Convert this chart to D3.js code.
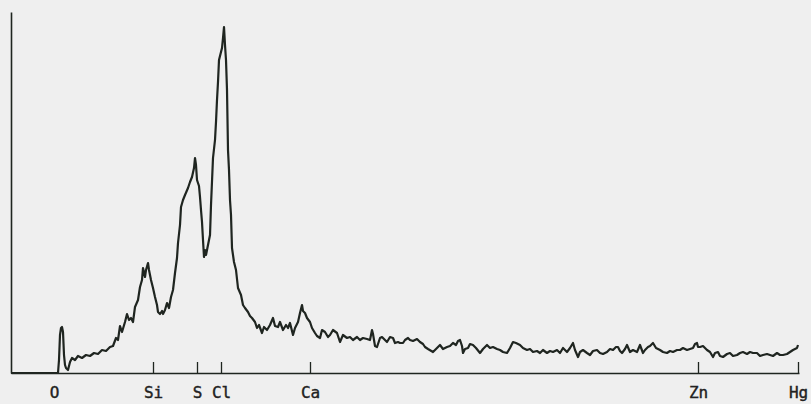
<!DOCTYPE html>
<html>
<head>
<meta charset="utf-8">
<script src="https://cdn.jsdelivr.net/npm/d3@7"></script>
<style>
  html, body { margin: 0; padding: 0; background: #efefef; }
  svg { display: block; }
</style>
</head>
<body>
<svg id="chart" width="811" height="404"></svg>
<script>
// Element markers (channel position on the energy axis)
const elements = ["O", "Si", "S", "Cl", "Ca", "Zn", "Hg"];
const elementChannel = [43, 142, 186, 210, 299, 687, 787];
const tickedElements = ["Si", "S", "Cl", "Ca", "Zn", "Hg"];

// Spectrum: [channel, counts]
const spectrum = [
  [0,0],[47,0],[48,13],[49,38],[50,45],[51,46],[52,41],[53,18],[54,8],[55,5],
  [57,3],[59,11],[61,15],[64,13],[67,17],[71,15],[75,18],[79,17],[83,20],[87,19],
  [91,23],[95,22],[99,26],[102,27],[105,35],[107,33],[109,47],[111,41],[114,51],[116,59],
  [118,53],[120,55],[122,51],[124,66],[127,73],[129,86],[131,93],[132,105],[134,96],[135,103],
  [137,110],[138,103],[140,93],[142,85],[144,76],[146,68],[147,61],[149,59],[151,62],[152,59],
  [154,63],[156,70],[158,65],[160,76],[162,83],[164,100],[166,115],[167,130],[169,148],[170,166],
  [172,173],[174,178],[177,185],[179,191],[181,196],[183,205],[184,215],[185,208],[186,193],[188,187],
  [189,176],[190,163],[191,151],[192,133],[193,116],[194,123],[195,118],[196,123],[198,133],[199,138],
  [200,168],[202,215],[204,233],[205,251],[206,273],[207,291],[208,313],[210,321],[211,325],[212,335],
  [213,346],[214,328],[215,313],[216,283],[217,223],[218,203],[219,173],[220,158],[221,125],[223,111],
  [225,103],[227,85],[230,78],[232,68],[234,65],[237,61],[239,57],[241,55],[244,51],[246,45],
  [248,48],[251,40],[253,46],[256,43],[259,48],[262,55],[264,47],[267,46],[269,51],[272,43],
  [275,48],[277,45],[279,50],[282,38],[284,45],[287,51],[289,60],[291,68],[292,62],[294,60],
  [296,55],[299,51],[301,45],[304,40],[306,37],[309,35],[311,43],[314,41],[317,36],[319,38],
  [322,43],[326,40],[329,31],[332,38],[336,35],[339,36],[342,33],[346,36],[349,33],[352,35],
  [356,34],[359,33],[361,43],[362,39],[364,27],[366,26],[369,35],[371,36],[374,33],[376,31],
  [379,36],[382,35],[384,30],[387,31],[389,30],[392,30],[394,33],[397,35],[399,33],[402,32],
  [406,34],[409,31],[412,29],[414,26],[417,24],[422,21],[426,25],[429,28],[432,24],[436,26],
  [439,27],[442,30],[445,28],[447,32],[449,33],[451,27],[452,20],[454,24],[457,25],[459,29],
  [462,28],[465,25],[469,20],[472,24],[476,28],[479,25],[482,26],[486,24],[489,23],[492,21],
  [496,20],[499,25],[502,31],[505,30],[509,28],[512,25],[516,23],[519,24],[522,21],[526,22],
  [529,20],[532,23],[536,20],[539,22],[542,21],[546,23],[549,20],[552,25],[556,21],[559,25],
  [562,30],[564,23],[567,16],[569,21],[572,23],[576,20],[579,18],[582,22],[586,23],[589,20],
  [592,19],[596,21],[599,24],[602,23],[605,26],[607,26],[609,22],[611,20],[614,24],[616,28],
  [619,21],[622,23],[626,21],[629,28],[632,20],[634,23],[637,26],[639,27],[642,30],[645,25],
  [649,23],[652,21],[656,20],[659,22],[662,21],[666,23],[669,23],[672,25],[676,23],[679,24],
  [682,25],[684,29],[686,30],[687,26],[689,26],[692,27],[696,23],[699,21],[702,16],[704,20],
  [707,21],[709,17],[712,16],[716,19],[719,20],[722,17],[726,18],[729,20],[732,21],[736,19],
  [739,21],[742,20],[746,20],[749,17],[752,18],[756,19],[759,18],[762,17],[766,20],[769,18],
  [772,18],[776,19],[779,21],[782,23],[784,24],[786,25],[787,28]
];

const svg = d3.select("#chart");
const ink = "#1f2520";

const x = d3.scaleLinear().domain([0, 788]).range([11, 799]);
const y = d3.scaleLinear().domain([0, 361]).range([373, 12]);

// Bottom axis with inward element ticks
const nameAt = new Map(elementChannel.map((c, i) => [c, elements[i]]));
const xAxis = d3.axisBottom(x)
  .tickValues(elementChannel)
  .tickFormat(c => nameAt.get(c))
  .tickSizeInner(-11)
  .tickSizeOuter(0)
  .tickPadding(14);

const gx = svg.append("g")
  .attr("transform", `translate(0,${y(0)})`)
  .call(xAxis);
gx.select(".domain").attr("stroke", ink).attr("stroke-width", 1.6);
gx.selectAll(".tick line")
  .attr("stroke", ink).attr("stroke-width", 1.3)
  .attr("display", c => tickedElements.includes(nameAt.get(c)) ? null : "none");
gx.selectAll(".tick text")
  .attr("fill", "#222")
  .attr("stroke", "#222")
  .attr("stroke-width", 0.4)
  .attr("font-family", "'DejaVu Sans Mono', 'Liberation Mono', monospace")
  .attr("font-size", 16);

// Left axis: plain line
const gy = svg.append("g")
  .attr("transform", `translate(${x(0)},0)`)
  .call(d3.axisLeft(y).tickValues([]).tickSizeOuter(0));
gy.select(".domain").attr("stroke", ink).attr("stroke-width", 1.6);

// Spectrum trace
const line = d3.line()
  .x(d => x(d[0]))
  .y(d => y(d[1]));

svg.append("path")
  .datum(spectrum)
  .attr("fill", "none")
  .attr("stroke", ink)
  .attr("stroke-width", 2.2)
  .attr("stroke-linejoin", "round")
  .attr("d", line);
</script>
</body>
</html>
